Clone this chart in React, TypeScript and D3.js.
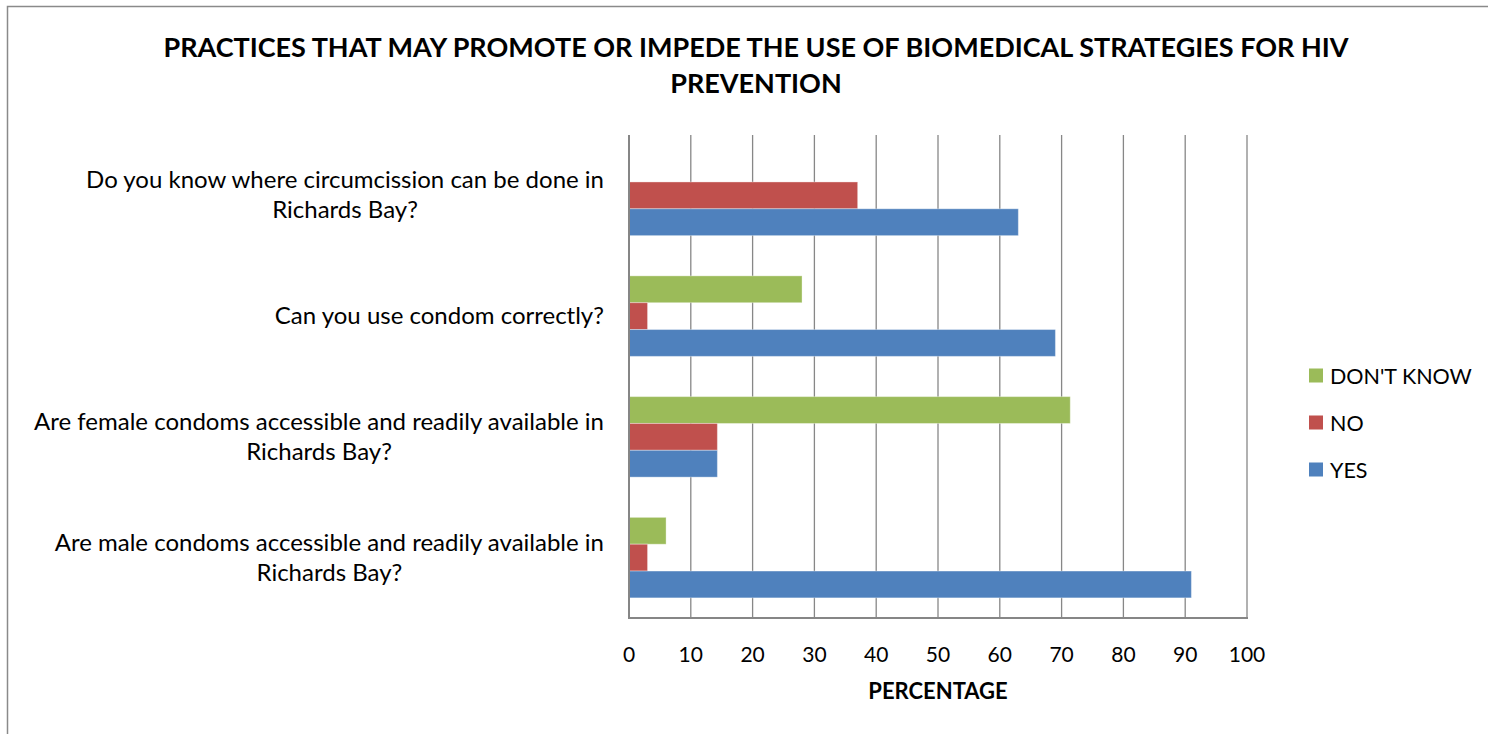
import React, { useRef, useEffect } from "react";
import * as d3 from "d3";

// chart values (percentages)
const categories = [
  "Do you know where circumcission can be done in Richards Bay?",
  "Can you use condom correctly?",
  "Are female condoms accessible and readily available in Richards Bay?",
  "Are male condoms accessible and readily available in Richards Bay?",
];
// how each category label breaks onto lines
const categoryLines = [
  ["Do you know where circumcission can be done in", "Richards Bay?"],
  ["Can you use condom correctly?"],
  ["Are female condoms accessible and readily available in", "Richards Bay?"],
  ["Are male condoms accessible and readily available in", "Richards Bay?"],
];
const seriesNames = ["DON'T KNOW", "NO", "YES"];
const dontKnowValues = [null, 28, 71.4, 6];
const noValues = [37, 3, 14.3, 3];
const yesValues = [63, 69, 14.3, 91];
const xTicks = [0, 10, 20, 30, 40, 50, 60, 70, 80, 90, 100];

const titleLines = [
  "PRACTICES THAT MAY PROMOTE OR IMPEDE THE USE OF BIOMEDICAL STRATEGIES FOR HIV",
  "PREVENTION",
];
const xAxisTitle = "PERCENTAGE";

const colors = {
  "DON'T KNOW": "#9BBB59",
  NO: "#C0504D",
  YES: "#4F81BD",
};

const FONT = "Lato, 'Open Sans', sans-serif";

const App = () => {
  const svgRef = useRef(null);

  useEffect(() => {
    const width = 1488;
    const height = 734;
    const plot = { left: 629, right: 1247, top: 135, bottom: 618 };
    const labelRight = 604;

    const svg = d3.select(svgRef.current);
    svg.selectAll("*").remove();

    // outer chart frame (runs past the picture edge)
    svg
      .append("rect")
      .attr("x", 7.5)
      .attr("y", 6.5)
      .attr("width", width + 20)
      .attr("height", height + 20)
      .attr("fill", "white")
      .attr("stroke", "#8a8a8a")
      .attr("stroke-width", 1.5);

    // Title
    svg
      .append("text")
      .attr("x", 756)
      .attr("y", 57)
      .attr("text-anchor", "middle")
      .style("font-family", FONT)
      .style("font-weight", "bold")
      .style("font-size", "27px")
      .attr("fill", "#000")
      .selectAll("tspan")
      .data(titleLines)
      .join("tspan")
      .attr("x", 756)
      .attr("dy", (d, i) => (i === 0 ? 0 : 36))
      .text((d) => d);

    // Scales
    const xScale = d3
      .scaleLinear()
      .domain([0, 100])
      .range([plot.left, plot.right]);

    const yScale = d3
      .scaleBand()
      .domain(categories)
      .range([plot.top, plot.bottom])
      .paddingInner(1 / 3)
      .paddingOuter(1 / 6);

    const seriesScale = d3
      .scaleBand()
      .domain(seriesNames)
      .range([0, yScale.bandwidth()]);

    // Gridlines
    svg
      .append("g")
      .selectAll("line")
      .data(xTicks.slice(1))
      .join("line")
      .attr("x1", (d) => xScale(d))
      .attr("x2", (d) => xScale(d))
      .attr("y1", plot.top)
      .attr("y2", plot.bottom)
      .attr("stroke", "#878787")
      .attr("stroke-width", 1.3);

    // Bars
    const seriesData = [
      { name: "DON'T KNOW", values: dontKnowValues },
      { name: "NO", values: noValues },
      { name: "YES", values: yesValues },
    ];

    seriesData.forEach((s) => {
      svg
        .append("g")
        .selectAll("rect")
        .data(
          categories
            .map((c, i) => ({ cat: c, value: s.values[i] }))
            .filter((d) => d.value !== null)
        )
        .join("rect")
        .attr("x", xScale(0))
        .attr("y", (d) => yScale(d.cat) + seriesScale(s.name))
        .attr("width", (d) => xScale(d.value) - xScale(0))
        .attr("height", seriesScale.bandwidth())
        .attr("fill", colors[s.name])
        .attr("stroke", "rgba(255,255,255,0.35)")
        .attr("stroke-width", 1);
    });

    // Axis lines
    svg
      .append("line")
      .attr("x1", plot.left)
      .attr("x2", plot.left)
      .attr("y1", plot.top)
      .attr("y2", plot.bottom)
      .attr("stroke", "#868686")
      .attr("stroke-width", 2);
    svg
      .append("line")
      .attr("x1", plot.left - 1)
      .attr("x2", plot.right + 1)
      .attr("y1", plot.bottom)
      .attr("y2", plot.bottom)
      .attr("stroke", "#868686")
      .attr("stroke-width", 2);

    // X tick labels
    svg
      .append("g")
      .selectAll("text")
      .data(xTicks)
      .join("text")
      .attr("x", (d) => xScale(d))
      .attr("y", 662)
      .attr("text-anchor", "middle")
      .style("font-family", FONT)
      .style("font-size", "21px")
      .attr("fill", "#000")
      .text((d) => d);

    // X axis title
    svg
      .append("text")
      .attr("x", (plot.left + plot.right) / 2)
      .attr("y", 699)
      .attr("text-anchor", "middle")
      .style("font-family", FONT)
      .style("font-weight", "bold")
      .style("font-size", "22px")
      .attr("fill", "#000")
      .text(xAxisTitle);

    // Category labels: lines centred on each other, block right-aligned
    const lineHeight = 30;
    svg
      .append("g")
      .selectAll("text")
      .data(categories)
      .join("text")
      .attr("text-anchor", "middle")
      .style("font-family", FONT)
      .style("font-size", "24px")
      .attr("fill", "#000")
      .each(function (d, i) {
        const lines = categoryLines[i];
        const cy = yScale(d) + yScale.bandwidth() / 2;
        const startY = cy - ((lines.length - 1) * lineHeight) / 2 + 8;
        const spans = d3
          .select(this)
          .selectAll("tspan")
          .data(lines)
          .join("tspan")
          .attr("x", 0)
          .attr("y", (l, j) => startY + j * lineHeight)
          .text((l) => l);
        let maxW = 0;
        spans.each(function () {
          maxW = Math.max(maxW, this.getComputedTextLength());
        });
        spans.attr("x", labelRight - maxW / 2);
      });

    // Legend
    const legend = svg
      .append("g")
      .selectAll("g")
      .data(seriesNames)
      .join("g")
      .attr("transform", (d, i) => `translate(1309, ${375.5 + i * 47})`);
    legend
      .append("rect")
      .attr("x", 0)
      .attr("y", -7)
      .attr("width", 14)
      .attr("height", 14)
      .attr("fill", (d) => colors[d]);
    legend
      .append("text")
      .attr("x", 21)
      .attr("y", 8)
      .style("font-family", FONT)
      .style("font-size", "21.5px")
      .attr("fill", "#000")
      .text((d) => d);
  }, []);

  return (
    <svg
      ref={svgRef}
      width={1488}
      height={734}
      style={{ position: "absolute", left: 0, top: 0, background: "white" }}
    />
  );
};

export default App;
